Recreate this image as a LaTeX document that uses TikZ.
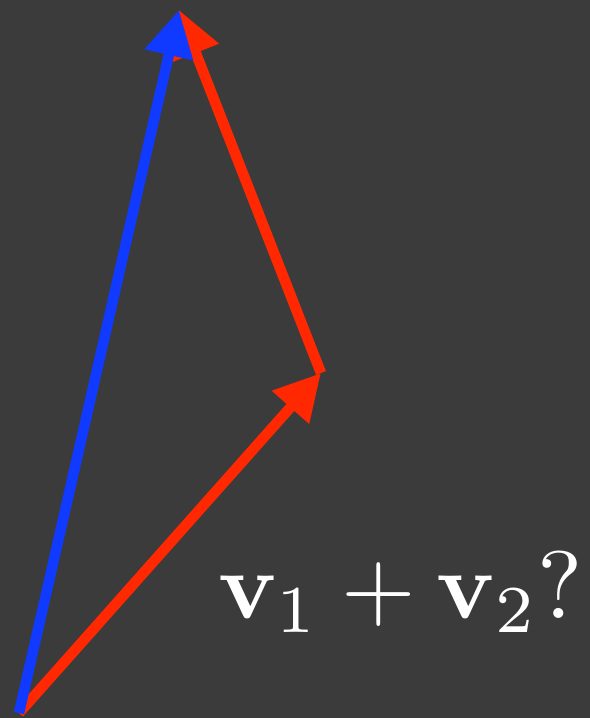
\documentclass[tikz,border=0pt]{standalone}
\usepackage{tikz}
\usetikzlibrary{positioning, arrows.meta}
\definecolor{bg}{RGB}{59,59,59}
\definecolor{vecblue}{RGB}{16,58,255}
\definecolor{vecred}{RGB}{255,40,0}

\begin{document}
\begin{tikzpicture}[
        x=0.02cm, y=-0.02cm,
        vec/.style={line width=0.21cm, -{Triangle[length=0.92cm, width=0.94cm]}},
        label/.style={text=white, inner sep=0pt, scale=5.45}
    ]

    \fill[bg] (0,0) rectangle (590,718);
    \useasboundingbox (0,0) rectangle (590,718);

    \coordinate (O) at (19,713);
    \coordinate (A) at (321,373);
    \coordinate (B) at (179,10);

    \draw[vec, vecred] (O) -- (A);
    \draw[vec, vecred] (A) -- (B);
    \draw[vec, vecblue] (O) -- (B);

    \node[label, anchor=base] (sum) at (401,618) {$\mathbf{v}_1 + \mathbf{v}_2?$};

    \end{tikzpicture}
\end{document}
